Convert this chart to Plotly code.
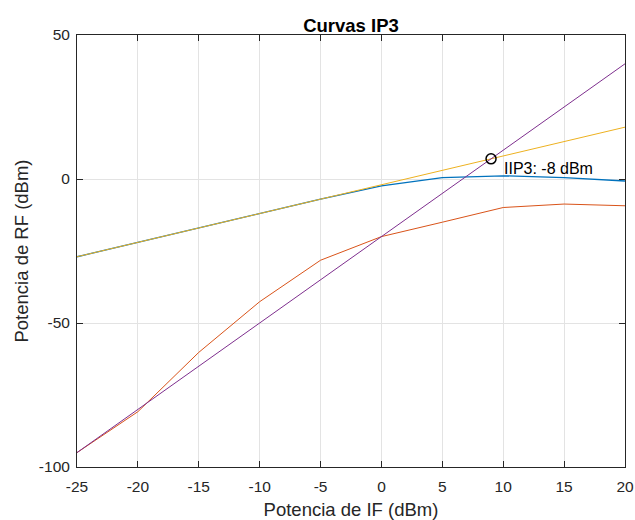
import plotly.graph_objects as go

x_if = [-25, -20, -15, -10, -5, 0, 5, 10, 15, 20]
fund = [-27, -22, -17, -12, -7, -2.4, 0.5, 1.1, 0.5, -0.7]
im3 = [-95, -80.8, -60.2, -42.6, -28.2, -20, -15, -9.9, -8.7, -9.3]
fund_ext = [-27, 18]
im3_ext = [-95, 40]
ext_x = [-25, 20]
ip3_point = (9, 7)
ip3_label = "IIP3: -8 dBm"
x_ticks = [-25, -20, -15, -10, -5, 0, 5, 10, 15, 20]
x_ticktext = ["-25", "-20", "-15", "-10", "-5", "0", "5", "10", "15", "20"]
y_ticks = [-100, -50, 0, 50]
y_ticktext = ["-100", "-50", "0", "50"]

font_family = "Liberation Sans, Arial, sans-serif"
fig = go.Figure()
fig.add_trace(go.Scatter(x=x_if, y=fund, mode="lines", line=dict(color="#0072BD", width=1.3)))
fig.add_trace(go.Scatter(x=x_if, y=im3, mode="lines", line=dict(color="#D95319", width=1)))
fig.add_trace(go.Scatter(x=ext_x, y=fund_ext, mode="lines", line=dict(color="#EDB120", width=1)))
fig.add_trace(go.Scatter(x=ext_x, y=im3_ext, mode="lines", line=dict(color="#7E2F8E", width=1)))
fig.add_trace(go.Scatter(x=[ip3_point[0]], y=[ip3_point[1]], mode="markers",
                         marker=dict(symbol="circle-open", size=10, color="black", line=dict(width=1.5))))
fig.add_annotation(x=10, y=3.7, text=ip3_label, showarrow=False, xanchor="left", yanchor="middle",
                   xshift=-1, font=dict(size=16, color="black", family=font_family))

axis_common = dict(showline=True, linecolor="#262626", linewidth=1, mirror="allticks", ticks="inside",
                   ticklen=6, tickcolor="#262626", showgrid=True, gridcolor="#e3e3e3", gridwidth=1,
                   zeroline=False, automargin=False,
                   tickfont=dict(size=15.5, color="#262626", family=font_family))
fig.update_xaxes(range=[-25, 20], tickvals=x_ticks, ticktext=x_ticktext, ticklabelstandoff=5,
                 title=dict(text="Potencia de IF (dBm)", font=dict(size=18.5, color="#262626", family=font_family), standoff=10),
                 **axis_common)
fig.update_yaxes(range=[-100, 50], tickvals=y_ticks, ticktext=y_ticktext, ticklabelstandoff=3,
                 title=dict(text="Potencia de RF (dBm)", font=dict(size=18.5, color="#262626", family=font_family), standoff=5),
                 **axis_common)
fig.update_layout(
    width=635, height=520, showlegend=False,
    margin=dict(l=77, r=10, t=35, b=53),
    plot_bgcolor="white", paper_bgcolor="white",
    title=dict(text="<b>Curvas IP3</b>", x=0.5, xanchor="center", y=1 - 26 / 520, yanchor="middle",
               xref="paper", font=dict(size=18.5, color="black", family=font_family)),
)
fig.write_html("out.html", post_script="document.body.style.margin='0';document.body.style.overflow='hidden';")
